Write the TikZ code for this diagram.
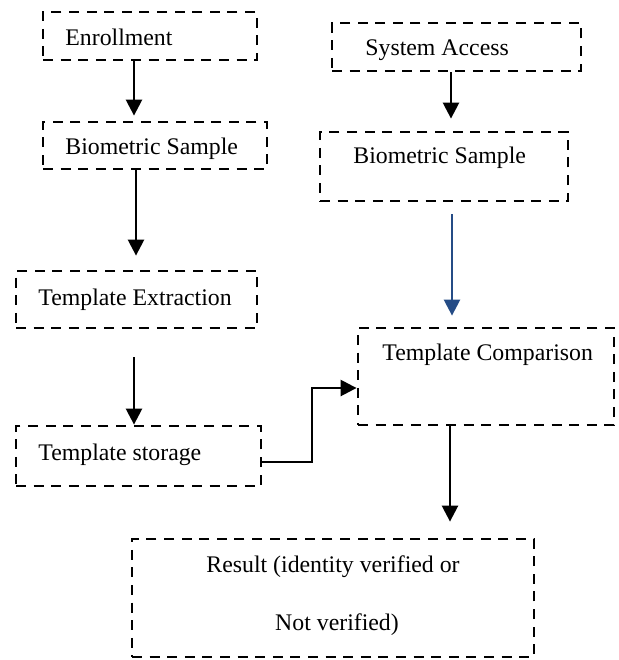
\documentclass[tikz,border=0pt]{standalone}
\usepackage{fontspec}
\setmainfont{Liberation Serif}
\usetikzlibrary{fit,arrows.meta}
\definecolor{arrblue}{RGB}{37,76,134}
\begin{document}
\begin{tikzpicture}[x=0.5pt,y=-0.5pt,
  box/.style={draw,dash pattern=on 5pt off 3.8pt,line width=1.4pt,inner sep=0pt,rectangle},
  lbl/.style={inner sep=0pt,font=\fontsize{11.9}{14}\selectfont},
  arr/.style={line width=1.25pt,-{Triangle[width=8pt,length=8pt]}}]
\useasboundingbox (0,0) rectangle (619,660);
% boxes
\node[box,fit={(43,12) (257,60)}] (enr) {};
\node[box,fit={(43,122) (267,169)}] (bioL) {};
\node[box,fit={(16,271) (257,328)}] (extr) {};
\node[box,fit={(16,426) (261,486)}] (stor) {};
\node[box,fit={(332,23) (581,71)}] (sys) {};
\node[box,fit={(320,132) (568,201)}] (bioR) {};
\node[box,fit={(358,328) (614,425)}] (cmp) {};
\node[box,fit={(132,539) (534,657)}] (res) {};
% labels
\node[lbl,anchor=base west] (tenr) at (65,45) {Enrollment};
\node[lbl,anchor=base west] (tbioL) at (65,154) {Biometric Sample};
\node[lbl,anchor=base west] (textr) at (38,305) {Template Extraction};
\node[lbl,anchor=base west] (tstor) at (38,460) {Template storage};
\node[lbl,anchor=base west] (tsys) at (365,55) {System Access};
\node[lbl,anchor=base west] (tbioR) at (353,163) {Biometric Sample};
\node[lbl,anchor=base west] (tcmp) at (382,360) {Template Comparison};
\node[lbl,anchor=base] (tres1) at (333,572) {Result (identity verified or};
\node[lbl,anchor=base] (tres2) at (337,630) {Not verified)};
% connectors
\draw[arr,shorten >=2.5pt] (134,0 |- enr.south) -- (134,0 |- bioL.north);
\draw[arr,shorten >=7pt] (136,0 |- bioL.south) -- (136,0 |- extr.north);
\draw[arr,shorten <=14pt] (134,0 |- extr.south) -- (134,0 |- stor.north);
\draw[arr,shorten >=6pt] (451,0 |- sys.south) -- (451,0 |- bioR.north);
\draw[arr,arrblue,shorten <=6pt,shorten >=5.5pt] (452,0 |- bioR.south) -- (452,0 |- cmp.north);
\draw[arr] (stor.east |- 0,462) -- (312,462) -- (312,388) -- (cmp.west |- 0,388);
\draw[arr,shorten >=8pt] (450,0 |- cmp.south) -- (450,0 |- res.north);
\end{tikzpicture}
\end{document}
